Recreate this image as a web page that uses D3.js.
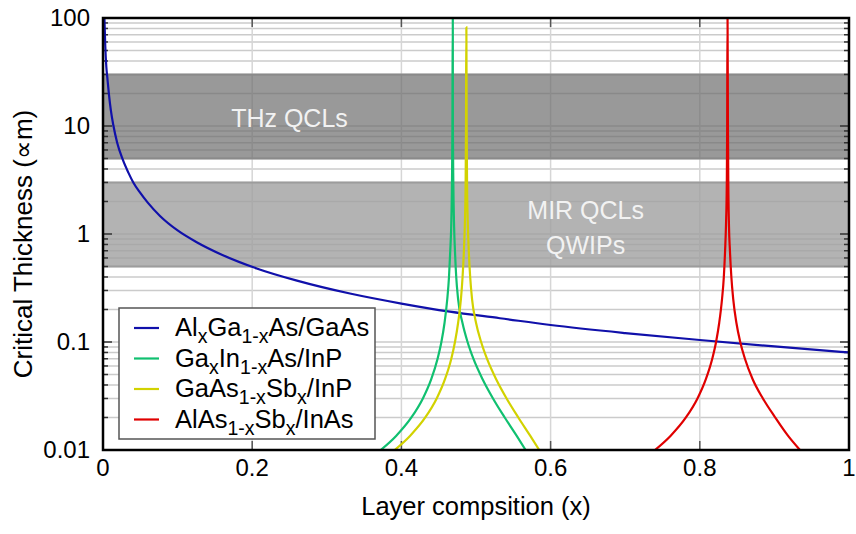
<!DOCTYPE html>
<html>
<head>
  <meta charset="utf-8">
  <title>Critical thickness vs layer composition</title>
  <script src="https://d3js.org/d3.v7.min.js"></script>
  <style>
    body { margin: 0; background: #fff; }
    text { font-family: Arial, "Liberation Sans", sans-serif; }
  </style>
</head>
<body>
  <svg id="chart" width="856" height="534"></svg>
  <script>
    // axis ticks
    var xTicks = [0, 0.2, 0.4, 0.6, 0.8, 1],
        xTickLabels = ['0', '0.2', '0.4', '0.6', '0.8', '1'],
        yTicks = [0.01, 0.1, 1, 10, 100],
        yTickLabels = ['0.01', '0.1', '1', '10', '100'];

    // shaded ranges (um)
    var bandLow = [5, 0.5],
        bandHigh = [30, 3],
        bandFill = ['#6b6b6b', '#a0a0a0'],
        bandAlpha = [0.69, 0.8],
        bandEdge = ['#8a8a8a', '#9c9c9c'];

    // series: [composition x, critical thickness]
    var alGaAs = [[0.0019, 100], [0.003, 56], [0.0045, 35], [0.0058, 28], [0.008, 19.5],
      [0.0105, 14], [0.0138, 10.2], [0.019, 7], [0.0264, 4.9], [0.034, 3.7], [0.0406, 3.0],
      [0.05, 2.4], [0.06, 1.95], [0.0764, 1.47], [0.1, 1.08], [0.1256, 0.84], [0.16, 0.64],
      [0.206, 0.48], [0.26, 0.37], [0.331, 0.281], [0.4, 0.227], [0.465, 0.191],
      [0.532, 0.166], [0.6, 0.1436], [0.7, 0.121], [0.8, 0.1044], [0.9, 0.091], [1.0, 0.080]];

    var gaInAs = [[0.3723, 0.01], [0.3929, 0.0135], [0.4134, 0.02], [0.4288, 0.03],
      [0.4399, 0.045], [0.4485, 0.07], [0.4536, 0.1], [0.4578, 0.15], [0.4615, 0.25],
      [0.4638, 0.4], [0.4655, 0.7], [0.4668, 1.2], [0.4678, 3], [0.4684, 10], [0.4688, 100],
      [0.4689, 100], [0.4690, 10], [0.4696, 3], [0.4706, 1.2], [0.4718, 0.7], [0.4735, 0.4],
      [0.4760, 0.25], [0.4819, 0.15], [0.4887, 0.1], [0.4965, 0.07], [0.5090, 0.045],
      [0.5228, 0.03], [0.5385, 0.02], [0.5546, 0.0135], [0.5665, 0.01]];

    var gaAsSb = [[0.3910, 0.01], [0.4115, 0.0135], [0.4320, 0.02], [0.4473, 0.03],
      [0.4583, 0.045], [0.4669, 0.07], [0.4718, 0.1], [0.4760, 0.15], [0.4798, 0.25],
      [0.4820, 0.4], [0.4838, 0.7], [0.4850, 1.2], [0.4861, 3], [0.4866, 10], [0.4870, 82],
      [0.4871, 82], [0.4875, 10], [0.4880, 3], [0.4891, 1.2], [0.4903, 0.7], [0.4922, 0.4],
      [0.4947, 0.25], [0.5001, 0.15], [0.5069, 0.1], [0.5147, 0.07], [0.5272, 0.045],
      [0.5410, 0.03], [0.5567, 0.02], [0.5728, 0.0135], [0.5848, 0.01]];

    var alAsSb = [[0.7399, 0.01], [0.7607, 0.0135], [0.7814, 0.02], [0.7969, 0.03],
      [0.8080, 0.045], [0.8167, 0.07], [0.8218, 0.1], [0.8260, 0.15], [0.8298, 0.25],
      [0.8322, 0.4], [0.8339, 0.7], [0.8351, 1.2], [0.8362, 3], [0.8367, 10], [0.8371, 100],
      [0.8372, 100], [0.8377, 10], [0.8382, 3], [0.8391, 1.2], [0.8404, 0.7], [0.8423, 0.4],
      [0.8448, 0.25], [0.8491, 0.15], [0.8542, 0.1], [0.8605, 0.07], [0.8710, 0.045],
      [0.8846, 0.03], [0.9011, 0.02], [0.9184, 0.0135], [0.9343, 0.01]];

    var series = [
      {data: alGaAs, color: '#1010aa', label: [['Al', 0], ['x', 1], ['Ga', 0], ['1-x', 1], ['As/GaAs', 0]]},
      {data: gaInAs, color: '#10c070', label: [['Ga', 0], ['x', 1], ['In', 0], ['1-x', 1], ['As/InP', 0]]},
      {data: gaAsSb, color: '#d2d200', label: [['GaAs', 0], ['1-x', 1], ['Sb', 0], ['x', 1], ['/InP', 0]]},
      {data: alAsSb, color: '#e00000', label: [['AlAs', 0], ['1-x', 1], ['Sb', 0], ['x', 1], ['/InAs', 0]]}
    ];

    var margin = {top: 18, right: 7, bottom: 84, left: 103},
        width = 856 - margin.left - margin.right,
        height = 534 - margin.top - margin.bottom;

    var svg = d3.select('#chart');
    var g = svg.append('g').attr('transform', 'translate(' + margin.left + ',' + margin.top + ')');

    var x = d3.scaleLinear().domain([0, 1]).range([0, width]);
    var y = d3.scaleLog().domain([0.01, 100]).range([height, 0]);

    g.append('clipPath').attr('id', 'plot-clip')
      .append('rect').attr('width', width).attr('height', height);

    // grid (drawn first, bands sit over it)
    var minorVals = [];
    for (var p = -2; p < 2; p++) {
      for (var k = 1; k < 10; k++) {
        var v = k * Math.pow(10, p);
        if (v > 0.01) minorVals.push(v);
      }
    }
    g.append('g').selectAll('line')
      .data(minorVals)
      .enter().append('line')
        .attr('x1', 0).attr('x2', width)
        .attr('y1', function(d) { return y(d); })
        .attr('y2', function(d) { return y(d); })
        .attr('stroke', '#cbcbcb')
        .attr('stroke-width', 1.5);

    g.append('g').selectAll('line')
      .data(xTicks.slice(1, -1))
      .enter().append('line')
        .attr('x1', function(d) { return x(d); })
        .attr('x2', function(d) { return x(d); })
        .attr('y1', 0).attr('y2', height)
        .attr('stroke', '#d6d6d6')
        .attr('stroke-width', 1.5);

    // bands
    g.selectAll('rect.band')
      .data(bandLow)
      .enter().append('rect')
        .attr('class', 'band')
        .attr('x', 0)
        .attr('width', width)
        .attr('y', function(d, i) { return y(bandHigh[i]); })
        .attr('height', function(d, i) { return y(d) - y(bandHigh[i]); })
        .attr('fill', function(d, i) { return bandFill[i]; })
        .attr('fill-opacity', function(d, i) { return bandAlpha[i]; });

    g.selectAll('g.bandedge')
      .data(bandLow)
      .enter().append('g')
        .each(function(d, i) {
          var e = d3.select(this);
          [d, bandHigh[i]].forEach(function(v) {
            e.append('line')
              .attr('x1', 0).attr('x2', width)
              .attr('y1', y(v)).attr('y2', y(v))
              .attr('stroke', bandEdge[i]).attr('stroke-width', 2);
          });
        });

    // band labels
    var bandText = [['THz QCLs', 0.25, 10, 1], ['MIR QCLs', 0.647, 1.38, 0], ['QWIPs', 0.647, 0.653, 0]];
    g.selectAll('text.bandlab')
      .data(bandText)
      .enter().append('text')
        .attr('class', 'bandlab')
        .attr('x', function(d) { return x(d[1]); })
        .attr('y', function(d) { return y(d[2]) + d[3]; })
        .attr('text-anchor', 'middle')
        .attr('fill', '#f2f2f2')
        .style('font-size', '25px')
        .text(function(d) { return d[0]; });

    // ticks, inward on all four sides
    var tickColor = '#333';
    var yMinor = minorVals.filter(function(d) { return [0.1, 1, 10].indexOf(d) < 0; });
    var yMajor = [0.1, 1, 10];
    [[0, 1], [width, -1]].forEach(function(side) {
      g.append('g').selectAll('line').data(yMinor).enter().append('line')
        .attr('x1', side[0]).attr('x2', side[0] + side[1] * 5)
        .attr('y1', function(d) { return y(d); }).attr('y2', function(d) { return y(d); })
        .attr('stroke', tickColor).attr('stroke-width', 1.5);
      g.append('g').selectAll('line').data(yMajor).enter().append('line')
        .attr('x1', side[0]).attr('x2', side[0] + side[1] * 9)
        .attr('y1', function(d) { return y(d); }).attr('y2', function(d) { return y(d); })
        .attr('stroke', tickColor).attr('stroke-width', 1.5);
    });
    [[0, 1], [height, -1]].forEach(function(side) {
      g.append('g').selectAll('line').data(xTicks.slice(1, -1)).enter().append('line')
        .attr('x1', function(d) { return x(d); }).attr('x2', function(d) { return x(d); })
        .attr('y1', side[0]).attr('y2', side[0] + side[1] * 9)
        .attr('stroke', '#555').attr('stroke-width', 1.5);
    });

    // curves
    var line = d3.line()
      .x(function(d) { return x(d[0]); })
      .y(function(d) { return y(d[1]); })
      .curve(d3.curveMonotoneX);

    g.append('g').attr('clip-path', 'url(#plot-clip)')
      .selectAll('path')
      .data(series)
      .enter().append('path')
        .attr('d', function(d) { return line(d.data); })
        .attr('fill', 'none')
        .attr('stroke', function(d) { return d.color; })
        .attr('stroke-width', 2.2);

    // frame
    g.append('rect')
      .attr('width', width).attr('height', height)
      .attr('fill', 'none').attr('stroke', '#000').attr('stroke-width', 2.5);

    // tick labels
    g.selectAll('text.ylab')
      .data(yTicks)
      .enter().append('text')
        .attr('class', 'ylab')
        .attr('x', -13)
        .attr('y', function(d) { return y(d) + 8; })
        .attr('text-anchor', 'end')
        .style('font-size', '24px')
        .text(function(d, i) { return yTickLabels[i]; });

    g.selectAll('text.xlab')
      .data(xTicks)
      .enter().append('text')
        .attr('class', 'xlab')
        .attr('x', function(d) { return x(d); })
        .attr('y', height + 26)
        .attr('text-anchor', 'middle')
        .style('font-size', '24px')
        .text(function(d, i) { return xTickLabels[i]; });

    // axis titles
    svg.append('text')
      .attr('x', margin.left + width / 2)
      .attr('y', 515)
      .attr('text-anchor', 'middle')
      .style('font-size', '25.5px')
      .text('Layer compsition (x)');

    svg.append('text')
      .attr('transform', 'translate(32,244) rotate(-90)')
      .attr('text-anchor', 'middle')
      .style('font-size', '26px')
      .text('Critical Thickness (\u221Dm)');

    // legend
    var legend = svg.append('g').attr('transform', 'translate(119,308)');
    legend.append('rect')
      .attr('width', 256).attr('height', 131)
      .attr('fill', '#fff').attr('stroke', '#555').attr('stroke-width', 1.5);

    var item = legend.selectAll('g.item')
      .data(series)
      .enter().append('g')
        .attr('class', 'item')
        .attr('transform', function(d, i) { return 'translate(0,' + (20 + i * 30.5) + ')'; });

    item.append('line')
      .attr('x1', 15).attr('x2', 40)
      .attr('stroke', function(d) { return d.color; })
      .attr('stroke-width', 2.2);

    item.append('text')
      .attr('x', 56).attr('y', 8)
      .style('font-size', '25.5px')
      .each(function(d) {
        var t = d3.select(this), shift = 0;
        d.label.forEach(function(part) {
          var want = part[1] ? 7 : 0;
          t.append('tspan')
            .attr('dy', want - shift)
            .style('font-size', part[1] ? '19.5px' : '25.5px')
            .text(part[0]);
          shift = want;
        });
      });
  </script>
</body>
</html>
